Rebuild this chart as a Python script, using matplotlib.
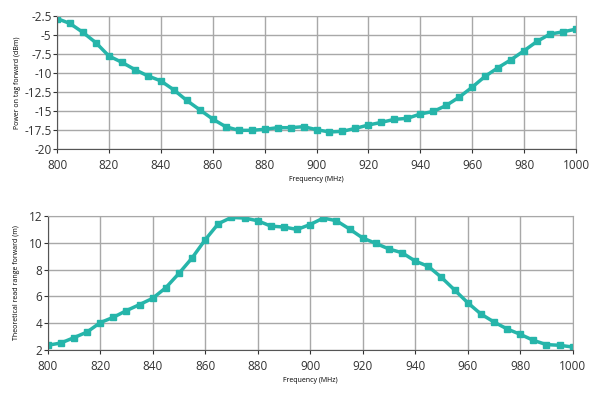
import numpy as np
import matplotlib.pyplot as plt

plt.rcParams['font.family'] = ['Open Sans', 'DejaVu Sans']

freq = np.arange(800, 1001, 5)

# power on tag forward (dBm)
power = [-2.81, -3.46, -4.64, -6.0, -7.75, -8.58, -9.54, -10.37, -11.03, -12.21,
         -13.61, -14.84, -16.06, -17.07, -17.55, -17.55, -17.42, -17.2, -17.2, -17.07,
         -17.46, -17.77, -17.68, -17.29, -16.85, -16.5, -16.1, -15.97, -15.4, -15.06,
         -14.27, -13.17, -11.86, -10.42, -9.28, -8.23, -7.05, -5.82, -4.86, -4.56, -4.21]

# theoretical read range forward (m)
read_range = [2.35, 2.52, 2.92, 3.34, 4.04, 4.44, 4.94, 5.39, 5.86, 6.65,
              7.72, 8.87, 10.23, 11.43, 11.9, 11.85, 11.65, 11.25, 11.18, 11.0,
              11.37, 11.85, 11.65, 11.03, 10.36, 9.96, 9.54, 9.26, 8.64, 8.24,
              7.42, 6.48, 5.53, 4.69, 4.09, 3.57, 3.17, 2.72, 2.4, 2.35, 2.22]

teal = '#26b5aa'

fig = plt.figure(figsize=(6, 3.95), dpi=100)
ax1 = fig.add_axes([0.095, 0.623, 0.865, 0.336])
ax2 = fig.add_axes([0.0795, 0.114, 0.875, 0.339])

def style(ax):
    ax.grid(True, color='#a8a8a8', linewidth=1.0)
    ax.set_axisbelow(True)
    for s in ['top', 'right']:
        ax.spines[s].set_color('#a8a8a8')
    for s in ['left', 'bottom']:
        ax.spines[s].set_color('#555555')
    ax.tick_params(labelsize=8.5, length=3, colors='#333333')
    ax.tick_params(axis='y', pad=1)
    ax.tick_params(axis='x', pad=4)
    ax.set_xlim(800, 1000)
    ax.set_xticks(np.arange(800, 1001, 20))
    ax.set_xlabel('Frequency (MHz)', fontsize=5, labelpad=3)

ax1.plot(freq, power, color=teal, lw=2.5, marker='s', ms=5)
style(ax1)
ax1.set_ylim(-20, -2.5)
ax1.set_yticks(np.arange(-20, -2.4, 2.5))
ax1.set_yticklabels(['-20', '-17.5', '-15', '-12.5', '-10', '-7.5', '-5', '-2.5'])
ax1.set_ylabel('Power on tag forward (dBm)', fontsize=5, labelpad=2)

ax2.plot(freq, read_range, color=teal, lw=2.5, marker='s', ms=5)
style(ax2)
ax2.set_ylim(2, 12)
ax2.set_yticks(np.arange(2, 13, 2))
ax2.set_ylabel('Theoretical read range forward (m)', fontsize=5, labelpad=6)

fig.savefig('out.png', dpi=100)
